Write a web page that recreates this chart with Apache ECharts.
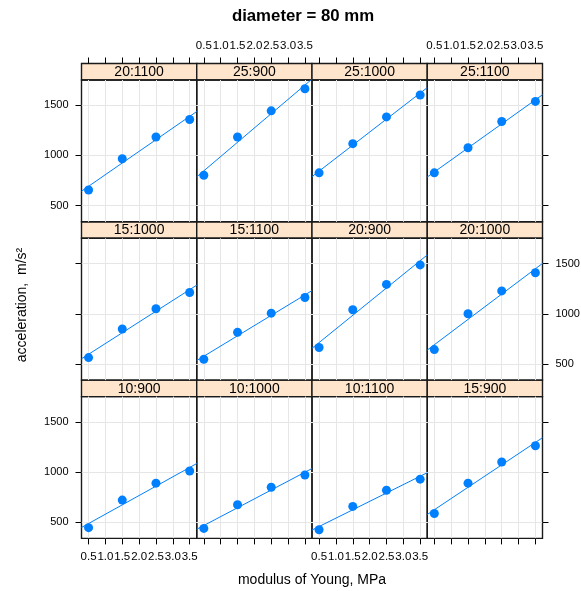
<!DOCTYPE html>
<html>
<head>
<meta charset="utf-8">
<script src="https://cdn.jsdelivr.net/npm/echarts@6/dist/echarts.min.js"></script>
<style>
  html, body { margin: 0; padding: 0; background: #fff; }
  #chart { width: 581px; height: 591px; }
</style>
</head>
<body>
<div id="chart"></div>
<script>
// Young's modulus at which acceleration was measured (MPa)
const modulus = [0.5, 1.5, 2.5, 3.5];

// tick positions and axis limits
const xTicks = [0.5, 1.0, 1.5, 2.0, 2.5, 3.0, 3.5];
const yTicks = [500, 1000, 1500];
const xLimits = [0.29, 3.71];
const yLimits = [337, 1754];

// acceleration (m/s^2) for each combination, diameter = 80 mm
const acc_10_900  = [444, 720, 889, 1010];
const acc_10_1000 = [437, 673, 848, 970];
const acc_10_1100 = [424, 657, 818, 929];
const acc_15_900  = [586, 889, 1101, 1263];
const acc_15_1000 = [562, 848, 1050, 1212];
const acc_15_1100 = [545, 814, 1006, 1162];
const acc_20_900  = [663, 1040, 1293, 1488];
const acc_20_1000 = [642, 1000, 1228, 1410];
const acc_20_1100 = [655, 967, 1184, 1359];
const acc_25_900  = [802, 1184, 1446, 1667];
const acc_25_1000 = [826, 1118, 1385, 1604];
const acc_25_1100 = [826, 1077, 1339, 1540];

// panel order: filled left to right, starting from the bottom row
const panelNames = ['10:900', '10:1000', '10:1100', '15:900',
                    '15:1000', '15:1100', '20:900', '20:1000',
                    '20:1100', '25:900', '25:1000', '25:1100'];
const panelValues = [acc_10_900, acc_10_1000, acc_10_1100, acc_15_900,
                     acc_15_1000, acc_15_1100, acc_20_900, acc_20_1000,
                     acc_20_1100, acc_25_900, acc_25_1000, acc_25_1100];

const FONT = '"Liberation Sans", Arial, Helvetica, sans-serif';
const POINT = '#0080ff';
const GRIDLINE = '#e6e6e6';
const STRIP = '#ffe5cc';
const FRAME = '#1a1a1a';

// layout of the 4 x 3 trellis
const NCOL = 4;
const left0 = 81.5, colW = 115.25;
const top0 = 63.5, stripH = 16.5, panelH = 141.8;
const tickLen = 6;
const frameW = 1.4;

// least-squares line through a panel's points
function fitLine(xs, ys) {
  const n = xs.length;
  const mx = xs.reduce((a, b) => a + b, 0) / n;
  const my = ys.reduce((a, b) => a + b, 0) / n;
  let sxy = 0, sxx = 0;
  for (let i = 0; i < n; i++) {
    sxy += (xs[i] - mx) * (ys[i] - my);
    sxx += (xs[i] - mx) * (xs[i] - mx);
  }
  const b = sxy / sxx;
  const a = my - b * mx;
  return x => a + b * x;
}

const grids = [], xAxes = [], yAxes = [], series = [], graphics = [];
const fmtX = v => Number(v).toFixed(1);
const fmtY = v => String(Math.round(v));

function hiddenY(gi) {
  return { gridIndex: gi, type: 'value', min: 0, max: 1,
           axisLine: { show: false }, axisTick: { show: false },
           axisLabel: { show: false }, splitLine: { show: false } };
}

panelNames.forEach((name, k) => {
  const col = k % NCOL;
  const rowFromBottom = Math.floor(k / NCOL);
  const r = 2 - rowFromBottom;               // 0 = top row
  const gx = left0 + col * colW;
  const st = top0 + r * (stripH + panelH);
  const pt = st + stripH;

  // ---- top tick band above the strips of the top row ----
  if (r === 0) {
    grids.push({ left: gx, top: st - tickLen, width: colW, height: tickLen,
                 show: false, containLabel: false, outerBoundsMode: 'none' });
    const ti = grids.length - 1;
    xAxes.push({
      gridIndex: ti, type: 'value', position: 'bottom',
      min: xLimits[0], max: xLimits[1],
      axisLine: { show: false },
      axisTick: { show: true, inside: true, customValues: xTicks, length: tickLen,
                  lineStyle: { color: '#000' } },
      axisLabel: { show: col % 2 === 1, inside: true, customValues: xTicks, formatter: fmtX,
                   margin: 12, fontSize: 11.5, color: '#000', fontFamily: FONT, hideOverlap: false },
      splitLine: { show: false }
    });
    yAxes.push(hiddenY(ti));
  }

  // ---- strip ----
  grids.push({
    left: gx, top: st, width: colW, height: stripH,
    show: true, backgroundColor: STRIP, borderColor: FRAME, borderWidth: frameW,
    containLabel: false, outerBoundsMode: 'none'
  });
  let gi = grids.length - 1;
  xAxes.push({
    gridIndex: gi, type: 'value', min: xLimits[0], max: xLimits[1],
    axisLine: { show: false }, axisTick: { show: false },
    axisLabel: { show: false }, splitLine: { show: false }
  });
  yAxes.push(hiddenY(gi));
  graphics.push({
    type: 'text', x: gx + colW / 2, y: st + stripH / 2 + 0.5, z: 10,
    style: { text: name, textAlign: 'center', textVerticalAlign: 'middle',
             font: '14px ' + FONT, fill: '#000' }
  });

  // ---- panel ----
  grids.push({
    left: gx, top: pt, width: colW, height: panelH,
    show: true, backgroundColor: 'transparent', borderColor: FRAME, borderWidth: frameW,
    containLabel: false, outerBoundsMode: 'none'
  });
  gi = grids.length - 1;
  const bottomRow = r === 2;
  xAxes.push({
    gridIndex: gi, type: 'value', position: 'bottom',
    min: xLimits[0], max: xLimits[1],
    axisLine: { show: false },
    axisTick: { show: bottomRow, customValues: xTicks, length: tickLen, lineStyle: { color: '#000' } },
    axisLabel: { show: bottomRow && col % 2 === 0, customValues: xTicks, formatter: fmtX,
                 margin: 12, fontSize: 11.5, color: '#000', fontFamily: FONT, hideOverlap: false },
    splitLine: { show: true, lineStyle: { color: GRIDLINE, width: 1 } }
  });
  const leftCol = col === 0, rightCol = col === NCOL - 1;
  const showYLabel = (leftCol && r !== 1) || (rightCol && r === 1);
  yAxes.push({
    gridIndex: gi, type: 'value', position: rightCol ? 'right' : 'left',
    min: yLimits[0], max: yLimits[1],
    axisLine: { show: false },
    axisTick: { show: leftCol || rightCol, customValues: yTicks, length: tickLen, lineStyle: { color: '#000' } },
    axisLabel: { show: showYLabel, customValues: yTicks, formatter: fmtY, margin: 13,
                 fontSize: 11, color: '#000', fontFamily: FONT, hideOverlap: false },
    splitLine: { show: true, lineStyle: { color: GRIDLINE, width: 1 } }
  });

  const vals = panelValues[k];
  const f = fitLine(modulus, vals);
  series.push({
    type: 'line', xAxisIndex: xAxes.length - 1, yAxisIndex: yAxes.length - 1,
    data: [[xLimits[0], f(xLimits[0])], [xLimits[1], f(xLimits[1])]],
    showSymbol: false, symbol: 'none', clip: true,
    lineStyle: { color: POINT, width: 1 }, z: 2, silent: true
  });
  series.push({
    type: 'scatter', xAxisIndex: xAxes.length - 1, yAxisIndex: yAxes.length - 1,
    data: modulus.map((x, i) => [x, vals[i]]),
    symbol: 'circle', symbolSize: 9,
    itemStyle: { color: POINT, opacity: 1 }, z: 3, silent: true
  });
});

// titles
graphics.push({
  type: 'text', x: 303, y: 16,
  style: { text: 'diameter = 80 mm', textAlign: 'center', textVerticalAlign: 'middle',
           font: 'bold 16.8px ' + FONT, fill: '#000' }
});
graphics.push({
  type: 'text', x: 312, y: 580,
  style: { text: 'modulus of Young, MPa', textAlign: 'center', textVerticalAlign: 'middle',
           font: '14px ' + FONT, fill: '#000' }
});
graphics.push({
  type: 'text', x: 22, y: 305, rotation: Math.PI / 2,
  style: { text: 'acceleration,  m/s²', textAlign: 'center', textVerticalAlign: 'middle',
           font: '14px ' + FONT, fill: '#000' }
});

const chart = echarts.init(document.getElementById('chart'), null, { renderer: 'canvas' });
chart.setOption({
  animation: false,
  backgroundColor: '#fff',
  textStyle: { fontFamily: FONT },
  grid: grids,
  xAxis: xAxes,
  yAxis: yAxes,
  series: series,
  graphic: graphics
});
</script>
</body>
</html>
